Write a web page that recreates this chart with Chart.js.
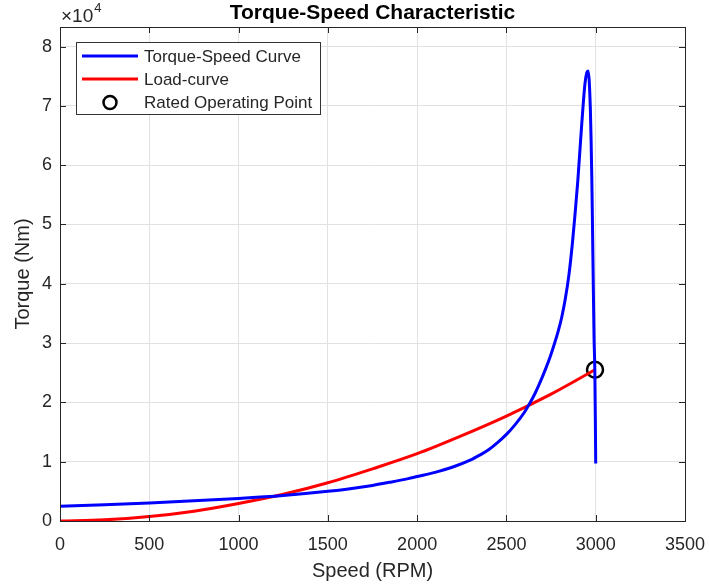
<!DOCTYPE html>
<html>
<head>
<meta charset="utf-8">
<title>Torque-Speed Characteristic</title>
<script src="https://cdn.jsdelivr.net/npm/chart.js@4.4.1/dist/chart.umd.min.js"></script>
<style>
  html, body { margin: 0; padding: 0; background: #fff; }
</style>
</head>
<body>
<canvas id="tsChart" width="709" height="587"></canvas>
<script>
// motor torque-speed curve (speed in RPM, torque in Nm)
const motorSpeed = [0, 250, 500, 750, 1000, 1250, 1500, 1625, 1750, 1850, 1950, 2000, 2100, 2200, 2300, 2350,
  2400, 2450, 2500, 2550, 2600, 2630, 2660, 2690, 2720, 2745, 2768, 2790, 2810, 2830, 2850, 2870, 2885, 2900, 2915,
  2928, 2940, 2950, 2957, 2963, 2967, 2970, 2974, 2978, 2981, 2984, 2987, 2991, 2995, 2998, 3000];
const motorTorque = [2500, 2750, 3050, 3400, 3800, 4300, 5000, 5450, 6000, 6550, 7150, 7500, 8200, 9100, 10300, 11100,
  12000, 13200, 14600, 16300, 18300, 19800, 21500, 23500, 25700, 27700, 29800, 32000, 34400, 37500, 41500, 47000, 52000, 57500, 64000,
  69500, 73800, 75600, 75900, 74500, 72000, 69500, 64500, 58000, 52000, 45000, 38500, 30500, 25500, 17000, 9700];

// load torque curve
const loadSpeed = [0, 250, 500, 750, 1000, 1250, 1500, 1750, 2000, 2250, 2500, 2750, 2996];
const loadTorque = [0, 200, 750, 1650, 2950, 4500, 6450, 8800, 11350, 14400, 17700, 21400, 25500];

// rated operating point
const ratedSpeed = [2996];
const ratedTorque = [25500];

const xTicks = [0, 500, 1000, 1500, 2000, 2500, 3000, 3500];
const yTicks = [0, 1, 2, 3, 4, 5, 6, 7, 8]; // x 10^4

const FONT = "'Liberation Sans', Arial, Helvetica, sans-serif";
const AXIS_COLOR = '#262626';

const toPoints = (xs, ys) => xs.map((x, i) => ({ x: x, y: ys[i] }));

// axes box, inward ticks, title, exponent and legend drawn like a MATLAB figure
const figureDecor = {
  id: 'figureDecor',
  afterDraw(chart) {
    const ctx = chart.ctx;
    const { left, right, top, bottom } = chart.chartArea;
    const xs = chart.scales.x;
    const ys = chart.scales.y;
    ctx.save();

    ctx.strokeStyle = AXIS_COLOR;
    ctx.lineWidth = 1;
    ctx.strokeRect(Math.round(left) + 0.5, Math.round(top) + 0.5, Math.round(right - left), Math.round(bottom - top));

    const tick = 6;
    ctx.beginPath();
    xTicks.forEach(v => {
      const px = Math.round(xs.getPixelForValue(v)) + 0.5;
      ctx.moveTo(px, bottom); ctx.lineTo(px, bottom - tick);
      ctx.moveTo(px, top); ctx.lineTo(px, top + tick);
    });
    yTicks.forEach(v => {
      const py = Math.round(ys.getPixelForValue(v * 10000)) + 0.5;
      ctx.moveTo(left, py); ctx.lineTo(left + tick, py);
      ctx.moveTo(right, py); ctx.lineTo(right - tick, py);
    });
    ctx.stroke();

    // exponent above the y axis
    ctx.fillStyle = AXIS_COLOR;
    ctx.textBaseline = 'alphabetic';
    ctx.textAlign = 'left';
    ctx.font = '19px ' + FONT;
    ctx.fillText('\u00d710', 61, 22);
    const w = ctx.measureText('\u00d710').width;
    ctx.font = '13px ' + FONT;
    ctx.fillText('4', 61 + w + 1, 12);

    // title
    ctx.fillStyle = '#000';
    ctx.font = 'bold 21px ' + FONT;
    ctx.textAlign = 'center';
    ctx.fillText('Torque-Speed Characteristic', (left + right) / 2, 19);

    // legend
    const bx = 76.5, by = 42.5, bw = 244, bh = 72;
    ctx.fillStyle = '#fff';
    ctx.fillRect(bx, by, bw, bh);
    ctx.strokeStyle = '#333';
    ctx.lineWidth = 1;
    ctx.strokeRect(bx, by, bw, bh);

    const rows = [
      { label: 'Torque-Speed Curve', kind: 'line', color: '#0000ff', y: 56 },
      { label: 'Load-curve', kind: 'line', color: '#ff0000', y: 79 },
      { label: 'Rated Operating Point', kind: 'circle', color: '#000', y: 102.5 }
    ];
    ctx.font = '17px ' + FONT;
    ctx.textAlign = 'left';
    ctx.textBaseline = 'middle';
    rows.forEach(r => {
      if (r.kind === 'line') {
        ctx.strokeStyle = r.color;
        ctx.lineWidth = 3;
        ctx.beginPath();
        ctx.moveTo(82, r.y); ctx.lineTo(138, r.y);
        ctx.stroke();
      } else {
        ctx.strokeStyle = r.color;
        ctx.lineWidth = 2.5;
        ctx.beginPath();
        ctx.arc(110, r.y, 6.5, 0, Math.PI * 2);
        ctx.stroke();
      }
      ctx.fillStyle = AXIS_COLOR;
      ctx.fillText(r.label, 144, r.y + 1);
    });

    ctx.restore();
  }
};

const ctx = document.getElementById('tsChart').getContext('2d');
new Chart(ctx, {
  type: 'scatter',
  data: {
    datasets: [
      {
        label: 'Torque-Speed Curve',
        data: toPoints(motorSpeed, motorTorque),
        showLine: true,
        borderColor: '#0000ff',
        borderWidth: 3,
        pointRadius: 0,
        cubicInterpolationMode: 'monotone'
      },
      {
        label: 'Load-curve',
        data: toPoints(loadSpeed, loadTorque),
        showLine: true,
        borderColor: '#ff0000',
        borderWidth: 3,
        pointRadius: 0,
        cubicInterpolationMode: 'monotone'
      },
      {
        label: 'Rated Operating Point',
        data: toPoints(ratedSpeed, ratedTorque),
        showLine: false,
        pointStyle: 'circle',
        pointRadius: 8,
        pointBorderWidth: 2.5,
        pointBorderColor: '#000',
        pointBackgroundColor: 'rgba(0,0,0,0)'
      }
    ]
  },
  options: {
    responsive: false,
    animation: false,
    devicePixelRatio: 1,
    layout: { padding: { top: 27, right: 24, left: 0, bottom: 0 } },
    plugins: {
      legend: { display: false },
      title: { display: false },
      tooltip: { enabled: false }
    },
    scales: {
      x: {
        type: 'linear',
        min: 0,
        max: 3500,
        afterBuildTicks: s => { s.ticks = xTicks.map(v => ({ value: v })); },
        // fixed axis height; end labels may hang into the page margin
        afterFit: s => { s.height = 66; s.paddingLeft = 0; s.paddingRight = 0; },
        ticks: {
          autoSkip: false,
          maxRotation: 0,
          padding: 13,
          color: AXIS_COLOR,
          font: { size: 18, family: FONT },
          callback: v => String(v)
        },
        grid: { color: '#e2e2e2', drawTicks: false },
        border: { display: false },
        title: {
          display: true,
          text: 'Speed (RPM)',
          color: AXIS_COLOR,
          font: { size: 20, family: FONT },
          padding: { top: 0, bottom: 4 }
        }
      },
      y: {
        type: 'linear',
        min: 0,
        max: 83300,
        afterBuildTicks: s => { s.ticks = yTicks.map(v => ({ value: v * 10000 })); },
        afterFit: s => { s.width = 60; s.paddingTop = 0; s.paddingBottom = 0; },
        ticks: {
          autoSkip: false,
          padding: 8,
          color: AXIS_COLOR,
          font: { size: 18, family: FONT },
          callback: v => String(v / 10000)
        },
        grid: { color: '#e2e2e2', drawTicks: false },
        border: { display: false },
        title: {
          display: true,
          text: 'Torque (Nm)',
          color: AXIS_COLOR,
          font: { size: 20, family: FONT },
          padding: { top: 11, bottom: 0 }
        }
      }
    }
  },
  plugins: [figureDecor]
});
</script>
</body>
</html>
